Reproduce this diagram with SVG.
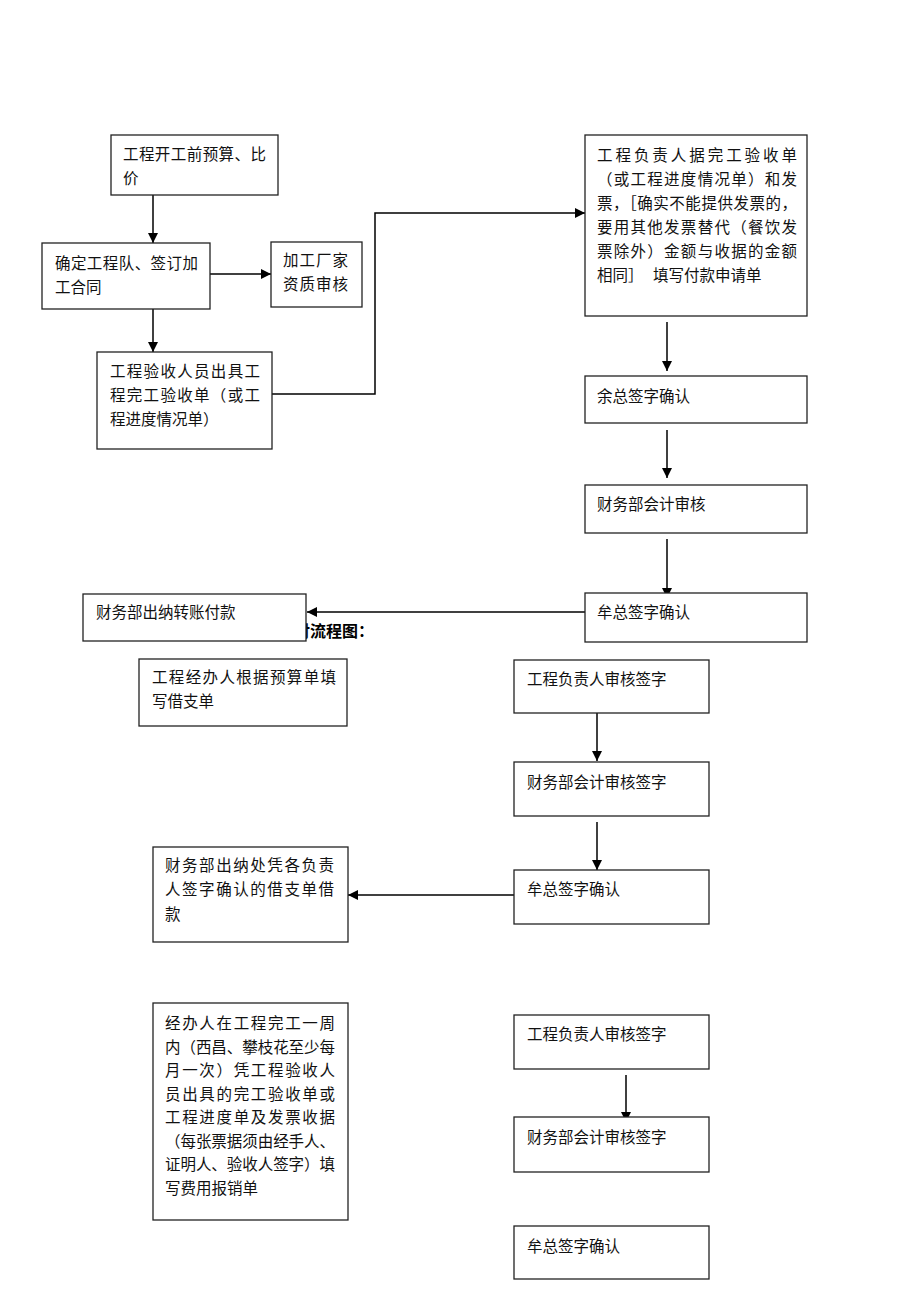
<svg xmlns="http://www.w3.org/2000/svg" width="920" height="1302" viewBox="0 0 920 1302">
<defs>
<marker id="arr" viewBox="0 0 10 10" refX="10" refY="5" markerWidth="10" markerHeight="10" markerUnits="userSpaceOnUse" orient="auto">
<path d="M0,0 L10,5 L0,10 Z" fill="#000"/>
</marker>
<style>
rect{fill:#fff;stroke:#222;stroke-width:1.3}
text{font-family:"Noto Sans CJK SC","Noto Sans CJK JP",sans-serif;font-size:15.5px;fill:#111}
.c line,.c polyline{stroke:#000;stroke-width:1.5;fill:none;marker-end:url(#arr)}
.h{font-weight:bold;font-size:16px;fill:#000}
</style>
</defs>
<rect width="920" height="1302" style="fill:#fff;stroke:none"/>
<text class="h" x="294" y="637">付流程图：</text>
<g class="c" id="connectors">
<line x1="153" y1="195" x2="153" y2="243"/>
<line x1="210" y1="274" x2="271" y2="274"/>
<line x1="153" y1="309" x2="153" y2="352"/>
<polyline points="272,394 375,394 375,213 585,213"/>
<line x1="667" y1="322" x2="667" y2="371"/>
<line x1="667" y1="430" x2="667" y2="478"/>
<line x1="667" y1="539" x2="667" y2="598"/>
<line x1="585" y1="612" x2="307" y2="612"/>
<line x1="597" y1="713" x2="597" y2="761"/>
<line x1="597" y1="822" x2="597" y2="870"/>
<line x1="514" y1="895" x2="348" y2="895"/>
<line x1="626" y1="1075" x2="626" y2="1122"/>
</g>
<g id="nA"><rect x="111" y="135" width="167" height="60"/>
<text x="123" y="160" textLength="143">工程开工前预算、比</text><text x="123" y="184">价</text></g>
<g id="nB"><rect x="42" y="243" width="168" height="66"/>
<text x="55" y="269" textLength="143">确定工程队、签订加</text><text x="55" y="293">工合同</text></g>
<g id="nC"><rect x="271" y="242" width="91" height="65"/>
<text x="283" y="266" textLength="65">加工厂家</text><text x="283" y="290" textLength="65">资质审核</text></g>
<g id="nD"><rect x="97" y="352" width="175" height="97"/>
<text x="110" y="377" textLength="150">工程验收人员出具工</text>
<text x="110" y="401" textLength="150">程完工验收单（或工</text>
<text x="110" y="425">程进度情况单）</text></g>
<g id="nE"><rect x="585" y="135" width="222" height="181"/>
<text x="597" y="161" textLength="200">工程负责人据完工验收单</text>
<text x="597" y="185" textLength="200">（或工程进度情况单）和发</text>
<text x="597" y="209" textLength="200">票，［确实不能提供发票的，</text>
<text x="597" y="233" textLength="200">要用其他发票替代（餐饮发</text>
<text x="597" y="257" textLength="200">票除外）金额与收据的金额</text>
<text x="597" y="281">相同］<tspan x="653">填写付款申请单</tspan></text></g>
<g id="nF"><rect x="585" y="376" width="222" height="47"/><text x="597" y="402">余总签字确认</text></g>
<g id="nG"><rect x="585" y="485" width="222" height="48"/><text x="597" y="510">财务部会计审核</text></g>
<g id="nH"><rect x="585" y="593" width="222" height="49"/><text x="597" y="618">牟总签字确认</text></g>
<g id="nI"><rect x="83" y="594" width="223" height="47"/><text x="96" y="618">财务部出纳转账付款</text></g>
<g id="nJ"><rect x="139" y="659" width="208" height="67"/>
<text x="152" y="683" textLength="184">工程经办人根据预算单填</text><text x="152" y="707">写借支单</text></g>
<g id="nK"><rect x="514" y="660" width="195" height="53"/><text x="527" y="685">工程负责人审核签字</text></g>
<g id="nL"><rect x="514" y="762" width="195" height="54"/><text x="527" y="788">财务部会计审核签字</text></g>
<g id="nM"><rect x="514" y="870" width="195" height="54"/><text x="527" y="895">牟总签字确认</text></g>
<g id="nN"><rect x="153" y="847" width="195" height="95"/>
<text x="165" y="871" textLength="169">财务部出纳处凭各负责</text>
<text x="165" y="895" textLength="169">人签字确认的借支单借</text>
<text x="165" y="920">款</text></g>
<g id="nO"><rect x="153" y="1003" width="195" height="217"/>
<text x="165" y="1029" textLength="170">经办人在工程完工一周</text>
<text x="165" y="1053" textLength="170">内（西昌、攀枝花至少每</text>
<text x="165" y="1076" textLength="170">月一次）凭工程验收人</text>
<text x="165" y="1100" textLength="170">员出具的完工验收单或</text>
<text x="165" y="1123" textLength="170">工程进度单及发票收据</text>
<text x="165" y="1147" textLength="170">（每张票据须由经手人、</text>
<text x="165" y="1170" textLength="170">证明人、验收人签字）填</text>
<text x="165" y="1194">写费用报销单</text></g>
<g id="nP"><rect x="514" y="1015" width="195" height="54"/><text x="527" y="1040">工程负责人审核签字</text></g>
<g id="nQ"><rect x="514" y="1117" width="195" height="55"/><text x="527" y="1143">财务部会计审核签字</text></g>
<g id="nR"><rect x="514" y="1226" width="195" height="53"/><text x="527" y="1252">牟总签字确认</text></g>
</svg>
